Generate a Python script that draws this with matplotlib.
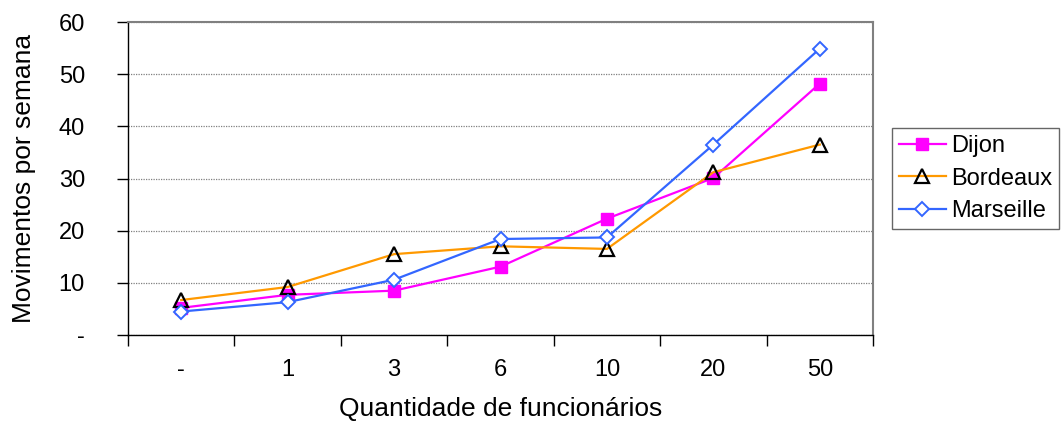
import numpy as np
import matplotlib.pyplot as plt

# --- data ---
categorias = ['-', '1', '3', '6', '10', '20', '50']
dijon = [5.2, 7.7, 8.5, 13.1, 22.3, 30.1, 48.2]
bordeaux = [6.7, 9.2, 15.5, 17.0, 16.5, 31.2, 36.5]
marseille = [4.5, 6.3, 10.6, 18.4, 18.7, 36.5, 54.9]
yticks = [0, 10, 20, 30, 40, 50, 60]
ytick_labels = ['-', '10', '20', '30', '40', '50', '60']

plt.rcParams['font.family'] = ['Liberation Sans', 'DejaVu Sans']

fig = plt.figure(figsize=(10.64, 4.21), dpi=100)
ax = fig.add_axes([0.1203, 0.2043, 0.7002, 0.7434])

x = np.arange(len(categorias))
ax.plot(x, dijon, color='#FF00FF', lw=1.6, marker='s', ms=9,
        mfc='#FF00FF', mec='#FF00FF', label='Dijon', zorder=3)
ax.plot(x, bordeaux, color='#FF9900', lw=1.6, marker='^', ms=10,
        mfc='none', mec='black', mew=1.6, label='Bordeaux', zorder=3)
ax.plot(x, marseille, color='#3366FF', lw=1.6, marker='D', ms=7.5,
        mfc='white', mec='#3366FF', mew=1.4, label='Marseille', zorder=4)

ax.set_xlim(-0.5, len(categorias) - 0.5)
ax.set_ylim(0, 60)

# category labels centred, tick marks on boundaries
ax.set_xticks(np.arange(-0.5, len(categorias)), minor=False)
ax.set_xticklabels([])
ax.set_xticks(x, minor=True)
ax.set_xticklabels(categorias, minor=True, fontsize=17)
ax.tick_params(axis='x', which='major', direction='out', length=8, width=1, color='black')
ax.tick_params(axis='x', which='minor', length=0, pad=17)

ax.set_yticks(yticks)
ax.set_yticklabels(ytick_labels, fontsize=17)
ax.tick_params(axis='y', direction='out', length=8, width=1, pad=23)

ax.grid(axis='y', which='major', color='#808080', linestyle=(0, (1, 1)), lw=0.9)
ax.set_axisbelow(True)

for s in ['top', 'right']:
    ax.spines[s].set_color('#808080')
    ax.spines[s].set_linewidth(1.5)
for s in ['left', 'bottom']:
    ax.spines[s].set_color('black')
    ax.spines[s].set_linewidth(1.0)

ax.set_xlabel('Quantidade de funcionários', fontsize=19, labelpad=12)
ax.set_ylabel('Movimentos por semana', fontsize=19, labelpad=16)

leg = ax.legend(loc='center left', bbox_to_anchor=(1.025, 0.5), fontsize=17,
                frameon=True, fancybox=False, edgecolor='#404040',
                handlelength=2.0, handletextpad=0.2, borderpad=0.3,
                labelspacing=0.45, borderaxespad=0)
leg.get_frame().set_linewidth(1.0)

fig.savefig('out.png', dpi=100)
